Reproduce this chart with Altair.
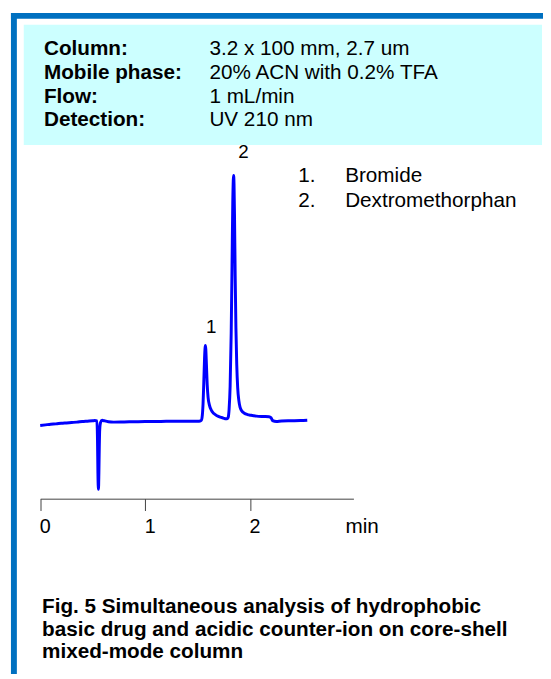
import altair as alt
import pandas as pd

# ---------------- data ----------------
times = [0.000, 0.050, 0.100, 0.150, 0.200, 0.250, 0.300, 0.350, 0.400, 0.450,
         0.500, 0.520, 0.540, 0.546, 0.550, 0.555, 0.559, 0.563, 0.567, 0.575,
         0.590, 0.610, 0.650, 0.700, 0.800, 0.900, 1.000, 1.100, 1.200, 1.300,
         1.400, 1.500, 1.525, 1.535, 1.545, 1.552, 1.559, 1.566, 1.571, 1.574,
         1.578, 1.584, 1.591, 1.600, 1.612, 1.630, 1.655, 1.685, 1.715, 1.745,
         1.770, 1.785, 1.792, 1.800, 1.810, 1.820, 1.828, 1.835, 1.840, 1.843,
         1.847, 1.852, 1.858, 1.865, 1.873, 1.882, 1.893, 1.905, 1.920, 1.945,
         1.975, 2.010, 2.060, 2.120, 2.180, 2.200, 2.215, 2.250, 2.300, 2.400,
         2.480, 2.545]
signal = [-2.3, -2.0, -1.7, -1.5, -1.2, -1.0, -0.8, -0.6, -0.3, -0.1,
          0.1, 0.2, 0.0, -10.0, -27.0, -35.2, -27.0, -13.0, -4.5, -0.8,
          0.4, 0.1, -0.4, -0.6, -0.5, -0.4, -0.3, -0.3, -0.2, -0.2,
          -0.1, -0.1, 0.0, 0.3, 3.0, 9.0, 20.0, 32.0, 37.5, 38.9,
          37.0, 29.0, 19.0, 12.0, 8.3, 5.6, 3.8, 2.7, 2.0, 1.5,
          1.1, 1.3, 2.0, 6.0, 18.0, 45.0, 80.0, 112.0, 124.0, 126.3,
          122.0, 104.0, 75.0, 48.0, 29.0, 17.0, 10.5, 7.0, 5.2, 4.0,
          3.3, 2.9, 2.5, 2.3, 2.2, 1.6, 0.2, -0.3, 0.0, 0.1,
          0.2, 0.4]

peak_times = [1.574, 1.843]
peak_heights = [38.9, 126.3]
peak_labels = ["1", "2"]

header_labels = ["Column:", "Mobile phase:", "Flow:", "Detection:"]
header_values = ["3.2 x 100 mm, 2.7 um", "20% ACN with 0.2% TFA", "1 mL/min", "UV 210 nm"]
legend_numbers = ["1.", "2."]
legend_names = ["Bromide", "Dextromethorphan"]
caption_lines = ["Fig. 5 Simultaneous analysis of hydrophobic",
                 "basic drug and acidic counter-ion on core-shell",
                 "mixed-mode column"]
tick_values = [0, 1, 2]
x_unit = "min"

# ---------------- styling ----------------
FONT = "Liberation Sans"
BLUE_FRAME = "#0070C0"
CYAN = "#CCFFFF"
LINE_BLUE = "#0000FF"
W, H = 543, 493
PAD_BOTTOM = 178
LABEL_OFFSETS = [(6, -13), (10, -18)]  # (dx, dy) for the two peak labels

one = pd.DataFrame({"k": [0]})
chrom = pd.DataFrame({"time": times, "signal": signal})
peaks = pd.DataFrame({"time": peak_times, "signal": peak_heights, "label": peak_labels})

x_scale = alt.Scale(domain=[0, 2.985], range=[32.7, 350.6], nice=False, zero=False)
y_scale = alt.Scale(domain=[-40, 210], nice=False, zero=False)


def rect(x1, x2, y1, y2, color):
    return alt.Chart(one).mark_rect(color=color).encode(
        x=alt.value(x1), x2=alt.value(x2), y=alt.value(y1), y2=alt.value(y2))


def text(txt, x, y, size=21, weight="normal"):
    return alt.Chart(one).mark_text(
        font=FONT, fontSize=size, fontWeight=weight, align="left",
        baseline="alphabetic", color="black").encode(
        x=alt.value(x), y=alt.value(y), text=alt.value(txt))


layers = [
    rect(3, 543, 0, 6, BLUE_FRAME),
    rect(3, 9, 0, H + PAD_BOTTOM, BLUE_FRAME),
    rect(16, 542, 12, 134, CYAN),
]

header_y = [43, 67, 91, 115]
for lab, val, yy in zip(header_labels, header_values, header_y):
    layers.append(text(lab, 36.5, yy, weight="bold"))
    layers.append(text(val, 204.4, yy))

line = alt.Chart(chrom).mark_line(
    color=LINE_BLUE, strokeWidth=3, interpolate="monotone").encode(
    x=alt.X("time:Q", scale=x_scale,
            axis=alt.Axis(values=tick_values, format="d", grid=False, tickSize=12,
                          tickColor="#404040", domainColor="#404040",
                          domainWidth=1, tickWidth=1,
                          labelFont=FONT, labelFontSize=20, labelColor="black",
                          labelAlign="left", labelPadding=6, labelOffset=-1,
                          labelFlush=False, labelOverlap=False,
                          title=x_unit, titleX=342, titleY=34,
                          titleAlign="left", titleAnchor="start",
                          titleBaseline="alphabetic",
                          titleFont=FONT, titleFontSize=21,
                          titleFontWeight="normal", titleColor="black")),
    y=alt.Y("signal:Q", scale=y_scale, axis=None),
    order="time:Q",
)
layers.append(line)

for lab, (ddx, ddy) in zip(peak_labels, LABEL_OFFSETS):
    layers.append(
        alt.Chart(peaks).transform_filter(alt.datum.label == lab).mark_text(
            font=FONT, fontSize=19, align="center", baseline="alphabetic",
            dx=ddx, dy=ddy, color="black").encode(
            x=alt.X("time:Q", scale=x_scale),
            y=alt.Y("signal:Q", scale=y_scale),
            text="label:N"))

legend_y = [172, 196.5]
for num, name, yy in zip(legend_numbers, legend_names, legend_y):
    layers.append(text(num, 294.7, yy))
    layers.append(text(name, 342.2, yy))

caption_y = [609, 632, 655]
for ln, yy in zip(caption_lines, caption_y):
    layers.append(text(ln, 34.5, yy, weight="bold"))

chart = alt.layer(*layers).properties(
    width=W, height=H,
    padding={"left": 0, "top": 0, "right": 0, "bottom": PAD_BOTTOM},
    autosize=alt.AutoSizeParams(type="none"),
    background="white",
).configure_view(stroke=None)

chart.save("out.html", embed_options={"renderer": "svg", "actions": False})
